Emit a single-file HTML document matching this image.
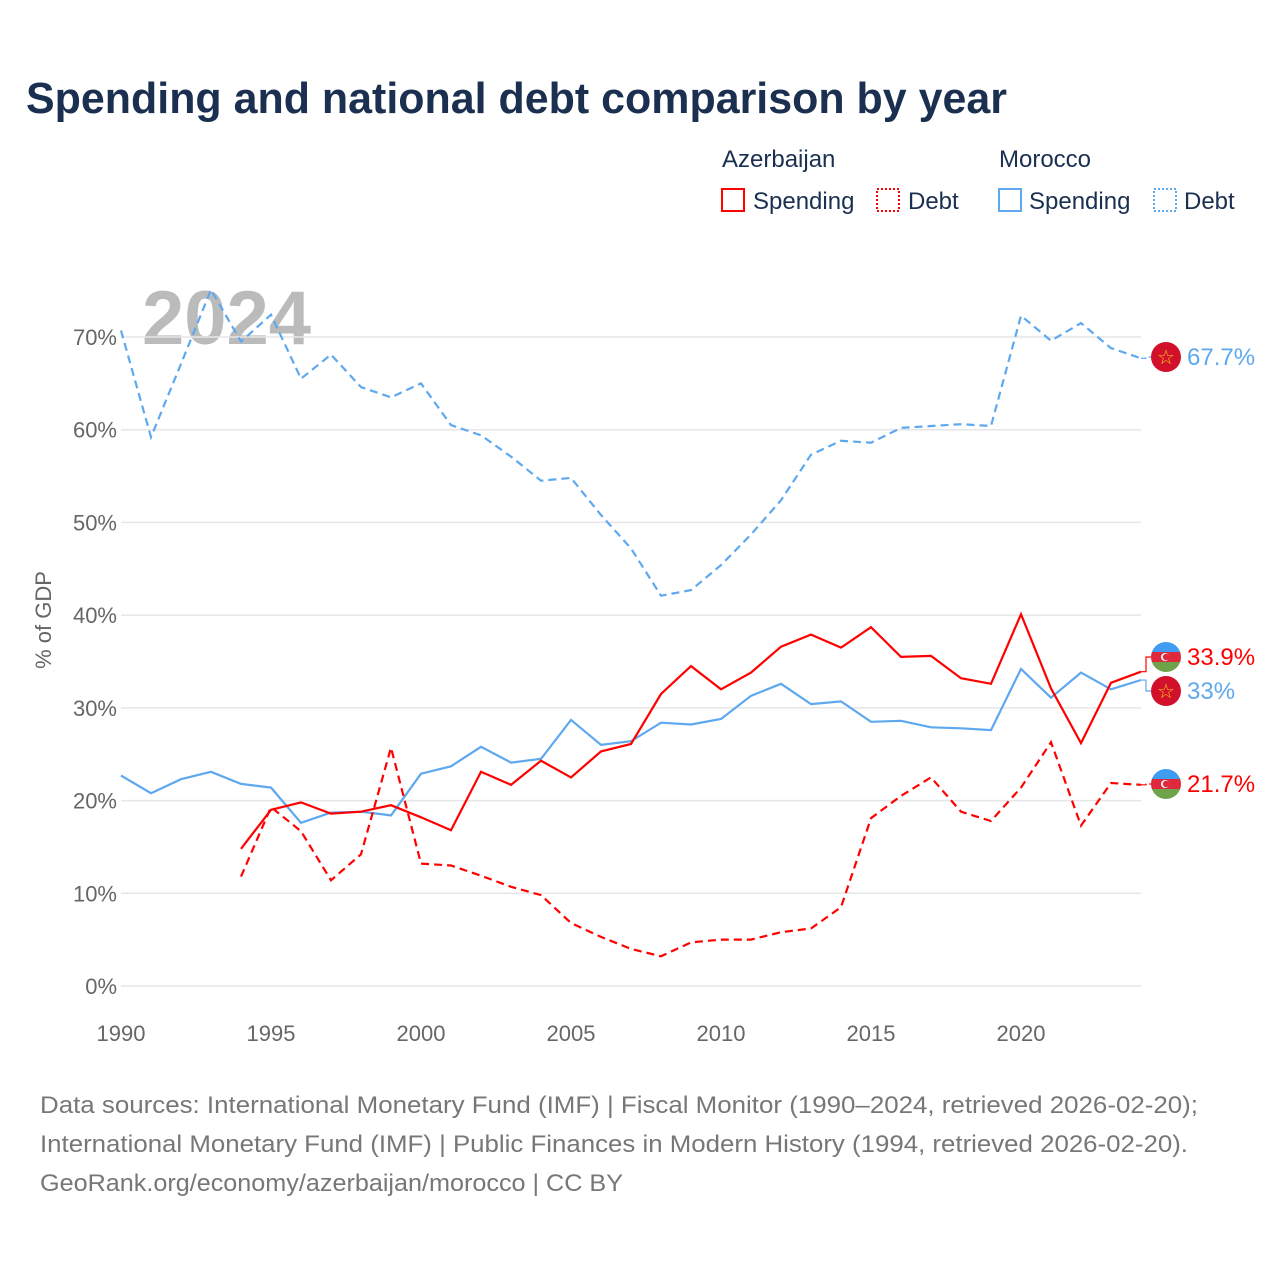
<!DOCTYPE html>
<html><head><meta charset="utf-8">
<style>
html,body{margin:0;padding:0;background:#fff;}
body{width:1280px;height:1280px;position:relative;overflow:hidden;font-family:"Liberation Sans",sans-serif;}
svg{position:absolute;left:0;top:0;}
</style></head>
<body>
<svg id="chart" width="1280" height="1280">
  <text x="26" y="113" font-size="44" font-weight="bold" fill="#1b3050" textLength="981" lengthAdjust="spacingAndGlyphs">Spending and national debt comparison by year</text>
  <g font-size="24" fill="#1b3050">
    <text x="722" y="167">Azerbaijan</text>
    <text x="999" y="167">Morocco</text>
    <g><rect x="722" y="189" width="22" height="22" fill="none" stroke="#ff0000" stroke-width="2"/><text x="753" y="209">Spending</text></g>
    <g><rect x="877" y="189" width="22" height="22" fill="none" stroke="#ff0000" stroke-width="2" stroke-dasharray="2,2"/><text x="908" y="209">Debt</text></g>
    <g><rect x="999" y="189" width="22" height="22" fill="none" stroke="#5ea8ef" stroke-width="2"/><text x="1029" y="209">Spending</text></g>
    <g><rect x="1154" y="189" width="22" height="22" fill="none" stroke="#5ea8ef" stroke-width="2" stroke-dasharray="2,2"/><text x="1184" y="209">Debt</text></g>
  </g>
  <text x="142" y="344" font-size="76" font-weight="bold" fill="#bbbbbb">2024</text>
  <g id="grid"></g>
  <g id="yticks" font-size="22" fill="#666" text-anchor="end"></g>
  <g id="xticks" font-size="22" fill="#666" text-anchor="middle"></g>
  <text transform="translate(51,620) rotate(-90)" font-size="22" fill="#666" text-anchor="middle">% of GDP</text>
  <g id="series"></g>
  <g id="ends"></g>
  <g font-size="24" fill="#777">
    <text x="40" y="1113" textLength="1158" lengthAdjust="spacingAndGlyphs">Data sources: International Monetary Fund (IMF) | Fiscal Monitor (1990–2024, retrieved 2026-02-20);</text>
    <text x="40" y="1152" textLength="1148" lengthAdjust="spacingAndGlyphs">International Monetary Fund (IMF) | Public Finances in Modern History (1994, retrieved 2026-02-20).</text>
    <text x="40" y="1191" textLength="583" lengthAdjust="spacingAndGlyphs">GeoRank.org/economy/azerbaijan/morocco | CC BY</text>
  </g>
</svg>
<script>
const yearsMor = [1990,1991,1992,1993,1994,1995,1996,1997,1998,1999,2000,2001,2002,2003,2004,2005,2006,2007,2008,2009,2010,2011,2012,2013,2014,2015,2016,2017,2018,2019,2020,2021,2022,2023,2024];
const yearsAze = [1994,1995,1996,1997,1998,1999,2000,2001,2002,2003,2004,2005,2006,2007,2008,2009,2010,2011,2012,2013,2014,2015,2016,2017,2018,2019,2020,2021,2022,2023,2024];
const morDebt = [70.7,59.2,67.1,75.1,69.5,72.4,65.5,68.1,64.6,63.5,65.0,60.5,59.4,57.1,54.5,54.8,50.8,47.2,42.1,42.7,45.4,48.7,52.4,57.3,58.8,58.6,60.2,60.4,60.6,60.4,72.3,69.6,71.5,68.8,67.7];
const morSpend = [22.7,20.8,22.3,23.1,21.8,21.4,17.6,18.7,18.8,18.4,22.9,23.7,25.8,24.1,24.5,28.7,26.0,26.4,28.4,28.2,28.8,31.3,32.6,30.4,30.7,28.5,28.6,27.9,27.8,27.6,34.2,31.1,33.8,32.0,33.0];
const azeSpend = [14.8,19.0,19.8,18.6,18.8,19.5,18.2,16.8,23.1,21.7,24.3,22.5,25.3,26.1,31.5,34.5,32.0,33.8,36.6,37.9,36.5,38.7,35.5,35.6,33.2,32.6,40.1,32.1,26.2,32.7,33.9];
const azeDebt = [11.8,19.3,16.7,11.4,14.2,25.7,13.2,13.0,11.9,10.7,9.8,6.8,5.3,4.0,3.2,4.7,5.0,5.0,5.8,6.2,8.5,18.1,20.5,22.5,18.8,17.8,21.4,26.3,17.3,21.9,21.7];
const yTicks = [0,10,20,30,40,50,60,70];
const xTicks = [1990,1995,2000,2005,2010,2015,2020];

const NS = "http://www.w3.org/2000/svg";
const X0 = 121, X1 = 1141, Y0 = 986, Y70 = 337;
function xs(yr){ return X0 + (yr-1990)*(X1-X0)/34; }
function ys(v){ return Y0 - v*(Y0-Y70)/70; }
function mk(tag, attrs, parent){ const e=document.createElementNS(NS,tag); for(const k in attrs) e.setAttribute(k,attrs[k]); parent.appendChild(e); return e; }

const grid = document.getElementById('grid'), yt = document.getElementById('yticks'), xt = document.getElementById('xticks');
yTicks.forEach(v=>{
  const l = mk('line',{x1:X0,x2:X1,y1:ys(v),y2:ys(v),stroke:'#e6e6e6','stroke-width':1.5},grid);
  
  
  const t = mk('text',{x:117,y:ys(v)+8},yt); t.textContent = v+'%';
  
  
});
xTicks.forEach(yr=>{
  const t = mk('text',{x:xs(yr),y:1041},xt); t.textContent = yr;
  
  
});

const ser = document.getElementById('series');
function line(years, vals, color, dash, name){
  const d = years.map((y,i)=>(i?'L':'M')+xs(y).toFixed(1)+','+ys(vals[i]).toFixed(1)).join(' ');
  const p = mk('path',{d:d,fill:'none',stroke:color,'stroke-width':2.2,'stroke-linejoin':'miter'},ser);
  if(dash) p.setAttribute('stroke-dasharray','8,5');
  
  
}
line(yearsMor, morDebt, '#5ea8ef', true, 'line-morocco-debt');
line(yearsMor, morSpend, '#5ea8ef', false, 'line-morocco-spending');
line(yearsAze, azeDebt, '#ff0000', true, 'line-azerbaijan-debt');
line(yearsAze, azeSpend, '#ff0000', false, 'line-azerbaijan-spending');

const ends = document.getElementById('ends');
function flagAze(cx,cy,g){
  const cp = 'clipAze'+cy;
  const c = mk('clipPath',{id:cp},g); mk('circle',{cx:cx,cy:cy,r:15},c);
  const gg = mk('g',{'clip-path':'url(#'+cp+')'},g);
  mk('rect',{x:cx-15,y:cy-15,width:30,height:10,fill:'#3f9cf0'},gg);
  mk('rect',{x:cx-15,y:cy-5,width:30,height:10,fill:'#e0283c'},gg);
  mk('rect',{x:cx-15,y:cy+5,width:30,height:10,fill:'#6fa34a'},gg);
  mk('circle',{cx:cx-1,cy:cy,r:4,fill:'#fff'},gg);
  mk('circle',{cx:cx,cy:cy,r:3.2,fill:'#e0283c'},gg);
}
function flagMor(cx,cy,g){
  mk('circle',{cx:cx,cy:cy,r:15,fill:'#d2102c'},g);
  const t = mk('text',{x:cx,y:cy+7,'font-size':20,fill:'#f5c518','text-anchor':'middle'},g); t.textContent='☆';
}
function endLabel(yLine, yLab, color, text, flag, dashed, name){
  const g = mk('g',{},ends);
  
  
  mk('path',{d:'M'+X1+','+ys(yLine)+' H1146 V'+yLab+' H1152',fill:'none',stroke:color,'stroke-width':1.2,'stroke-dasharray':dashed?'6,3':'none'},g);
  flag(1166,yLab,g);
  const t = mk('text',{x:1187,y:yLab+8,'font-size':24,fill:color},g); t.textContent=text;
}
endLabel(morDebt[morDebt.length-1], 357, '#5ea8ef', morDebt[morDebt.length-1]+'%', flagMor, true, 'end-label-morocco-debt');
endLabel(azeSpend[azeSpend.length-1], 657, '#ff0000', azeSpend[azeSpend.length-1]+'%', flagAze, false, 'end-label-azerbaijan-spending');
endLabel(morSpend[morSpend.length-1], 691, '#5ea8ef', morSpend[morSpend.length-1]+'%', flagMor, false, 'end-label-morocco-spending');
endLabel(azeDebt[azeDebt.length-1], 784, '#ff0000', azeDebt[azeDebt.length-1]+'%', flagAze, true, 'end-label-azerbaijan-debt');
</script>
</body></html>
